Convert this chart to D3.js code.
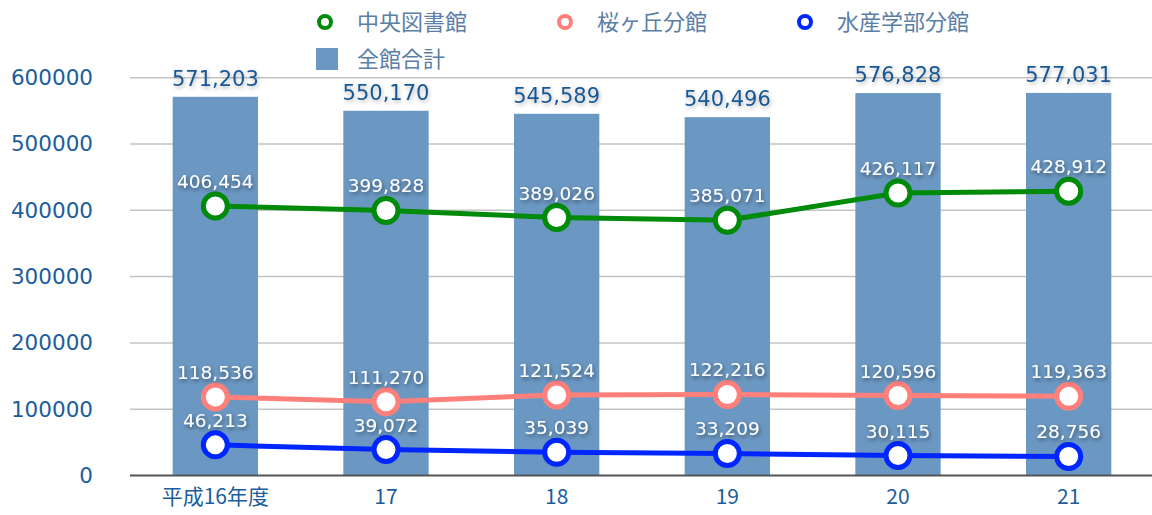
<!DOCTYPE html>
<html>
<head>
<meta charset="utf-8">
<script src="https://cdn.jsdelivr.net/npm/d3@7"></script>
<style>
  body { margin: 0; background: #fff; }
  svg { display: block; }
</style>
</head>
<body>
<script>
// 入館者数 (平成16〜21年度)
const categories = ["平成16年度", "17", "18", "19", "20", "21"];
const total   = [571203, 550170, 545589, 540496, 576828, 577031];
const central = [406454, 399828, 389026, 385071, 426117, 428912];
const sakura  = [118536, 111270, 121524, 122216, 120596, 119363];
const suisan  = [46213, 39072, 35039, 33209, 30115, 28756];
const yTicks  = [0, 100000, 200000, 300000, 400000, 500000, 600000];

const lineSeries = [
  { name: "中央図書館", values: central, color: "#008a0a" },
  { name: "桜ヶ丘分館", values: sakura, color: "#ff7f7b" },
  { name: "水産学部分館", values: suisan, color: "#0026ff" }
];

const W = 1152, H = 515;
const numFont = "'DejaVu Sans', 'Noto Sans CJK JP', sans-serif";
const jpFont = "'Noto Sans CJK JP', 'DejaVu Sans', sans-serif";
const fmt = d3.format(",");

const svg = d3.select("body").append("svg")
  .attr("width", W)
  .attr("height", H);

const defs = svg.append("defs");
const f1 = defs.append("filter").attr("id", "shadowDark")
  .attr("x", "-20%").attr("y", "-40%").attr("width", "140%").attr("height", "180%");
f1.append("feDropShadow").attr("dx", 1).attr("dy", 2).attr("stdDeviation", 2)
  .attr("flood-color", "#000").attr("flood-opacity", 0.5);
const f2 = defs.append("filter").attr("id", "shadowLight")
  .attr("x", "-20%").attr("y", "-40%").attr("width", "140%").attr("height", "180%");
f2.append("feDropShadow").attr("dx", 1).attr("dy", 2).attr("stdDeviation", 2)
  .attr("flood-color", "#000").attr("flood-opacity", 0.3);

const x = d3.scaleBand()
  .domain(categories)
  .range([130, 1154])
  .paddingInner(0.5)
  .paddingOuter(0.25);

const y = d3.scaleLinear()
  .domain([0, 600000])
  .range([475.5, 77.7]);

const cx = c => x(c) + x.bandwidth() / 2;

// grid
svg.append("g").selectAll("line")
  .data(yTicks.filter(d => d > 0))
  .enter()
  .append("line")
  .attr("x1", 130).attr("x2", W)
  .attr("y1", d => y(d)).attr("y2", d => y(d))
  .attr("stroke", "#c4c4c4")
  .attr("stroke-width", 1.5);

// y axis labels
const yAxis = svg.append("g")
  .attr("transform", "translate(93,0)")
  .call(d3.axisLeft(y).tickValues(yTicks).tickSize(0).tickPadding(0).tickFormat(d3.format("d")));
yAxis.select(".domain").remove();
yAxis.selectAll("text")
  .attr("font-family", numFont)
  .attr("font-size", 21.5)
  .attr("fill", "#1c5d9c");

// bars
svg.append("g").selectAll("rect")
  .data(total)
  .enter()
  .append("rect")
  .attr("x", (d, i) => x(categories[i]))
  .attr("width", x.bandwidth())
  .attr("y", d => y(d))
  .attr("height", d => y(0) - y(d))
  .attr("fill", "#6b98c3");

// bar labels
svg.append("g").selectAll("text")
  .data(total)
  .enter()
  .append("text")
  .attr("x", (d, i) => cx(categories[i]))
  .attr("y", d => y(d) - 11)
  .attr("text-anchor", "middle")
  .attr("font-family", numFont)
  .attr("font-size", 21)
  .attr("fill", "#195895")
  .attr("filter", "url(#shadowLight)")
  .text(d => fmt(d));

// x axis
const xAxis = svg.append("g")
  .attr("transform", "translate(0," + y(0) + ")")
  .call(d3.axisBottom(x).tickSize(0).tickPadding(14));
xAxis.select(".domain")
  .attr("d", "M130,0H" + W)
  .attr("stroke", "#555")
  .attr("stroke-width", 2);
xAxis.selectAll("text")
  .attr("font-family", jpFont)
  .attr("font-size", 21)
  .attr("fill", "#1c5d9c");

// lines
const line = d3.line()
  .x((d, i) => cx(categories[i]))
  .y(d => y(d));

lineSeries.forEach(s => {
  const g = svg.append("g");
  g.append("path")
    .datum(s.values)
    .attr("d", line)
    .attr("fill", "none")
    .attr("stroke", s.color)
    .attr("stroke-width", 5);
  g.selectAll("circle")
    .data(s.values)
    .enter()
    .append("circle")
    .attr("cx", (d, i) => cx(categories[i]))
    .attr("cy", d => y(d))
    .attr("r", 12)
    .attr("fill", "#fff")
    .attr("stroke", s.color)
    .attr("stroke-width", 5);
  g.selectAll("text")
    .data(s.values)
    .enter()
    .append("text")
    .attr("x", (d, i) => cx(categories[i]))
    .attr("y", d => y(d) - 18)
    .attr("text-anchor", "middle")
    .attr("font-family", numFont)
    .attr("font-size", 18.5)
    .attr("fill", "#fff")
    .attr("filter", "url(#shadowDark)")
    .text(d => fmt(d));
});

// legend
const legend = svg.append("g");
lineSeries.forEach((s, i) => {
  const lx = 325 + i * 240;
  legend.append("circle")
    .attr("cx", lx).attr("cy", 22)
    .attr("r", 6)
    .attr("fill", "#fff")
    .attr("stroke", s.color)
    .attr("stroke-width", 4);
  legend.append("text")
    .attr("x", lx + 32).attr("y", 22)
    .attr("dy", "0.36em")
    .attr("font-family", jpFont)
    .attr("font-size", 22)
    .attr("fill", "#5b7ea6")
    .text(s.name);
});
legend.append("rect")
  .attr("x", 316).attr("y", 48)
  .attr("width", 22).attr("height", 22)
  .attr("fill", "#6b98c3");
legend.append("text")
  .attr("x", 357).attr("y", 59)
  .attr("dy", "0.36em")
  .attr("font-family", jpFont)
  .attr("font-size", 22)
  .attr("fill", "#5b7ea6")
  .text("全館合計");
</script>
</body>
</html>
